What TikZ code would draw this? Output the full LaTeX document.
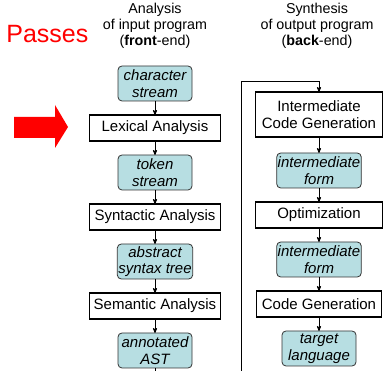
\documentclass[tikz,border=0pt]{standalone}
\usepackage{fontspec}
\setmainfont{Liberation Sans}
\usetikzlibrary{positioning, arrows}
\tikzset{->, >=stealth', node distance = 14pt}
\definecolor{streamfill}{RGB}{183,222,226}

\begin{document}
\begin{tikzpicture}[x=1pt, y=1pt, line width=0.8pt,
block_pass/.style={rectangle, draw=black, line width=1.6pt, fill=white, minimum width=131pt, minimum height=26pt, align=center, inner sep=1pt, outer sep=0pt, font=\fontsize{15}{16.5}\selectfont},
block_data/.style={rectangle, rounded corners=4pt, draw=black!80, line width=0.8pt, fill=streamfill, minimum width=74pt, minimum height=35pt, align=center, inner sep=1pt, outer sep=0pt, font=\fontsize{15}{16.5}\selectfont\itshape},
heading/.style={align=center, font=\fontsize{14.3}{16}\selectfont}]
    \useasboundingbox (0,0) rectangle (386,-371);
    \node[anchor=base west, text=red, font=\fontsize{25}{30}\selectfont, inner sep=0pt] (passes) at (6,-43) {Passes};
    \node[heading] (front) at (155,-26) {Analysis\\of input program\\(\textbf{front}-end)};
    \node[heading] (back) at (317,-26) {Synthesis\\of output program\\(\textbf{back}-end)};
    \fill[red] (14,-117) -- (55,-117) -- (55,-105) -- (68,-127) -- (55,-148) -- (55,-138) -- (14,-138) -- cycle;

    % front-end
    \node[block_data] (chars) at (155,-83.5) {character\\stream};
    \node[block_pass, below=of chars] (lexical) {Lexical Analysis};
    \node[block_data, below=of lexical] (tokens) {token\\stream};
    \node[block_pass, below=of tokens] (syntactic) {Syntactic Analysis};
    \node[block_data, below=of syntactic] (ast) {abstract\\syntax tree};
    \node[block_pass, below=of ast] (semantic) {Semantic Analysis};
    \node[block_data, below=of semantic] (annotated) {annotated\\AST};

    % back-end
    \node[block_pass, minimum width=127pt, minimum height=45pt] (icg) at (319,-114.5) {Intermediate\\Code Generation};
    \node[block_data, below=16pt of icg] (form) {intermediate\\form};
    \node[block_pass, minimum width=127pt, below=of form] (optimization) {Optimization};
    \node[block_data, below=of optimization] (formopt) {intermediate\\form};
    \node[block_pass, minimum width=125pt, below=of formopt] (codegen) {Code Generation};
    \node[block_data, below=of codegen] (target) {target\\language};

    \foreach \a/\b in {chars/lexical, lexical/tokens, tokens/syntactic, syntactic/ast, ast/semantic, semantic/annotated, icg/form, form/optimization, optimization/formopt, formopt/codegen, codegen/target}
        \draw (\a) -- (\b);

    \coordinate (loopturn) at (241,-81);
    \draw (annotated.south) -- ++(0,-20) -| (loopturn) -| (icg.north);
\end{tikzpicture}
\end{document}
